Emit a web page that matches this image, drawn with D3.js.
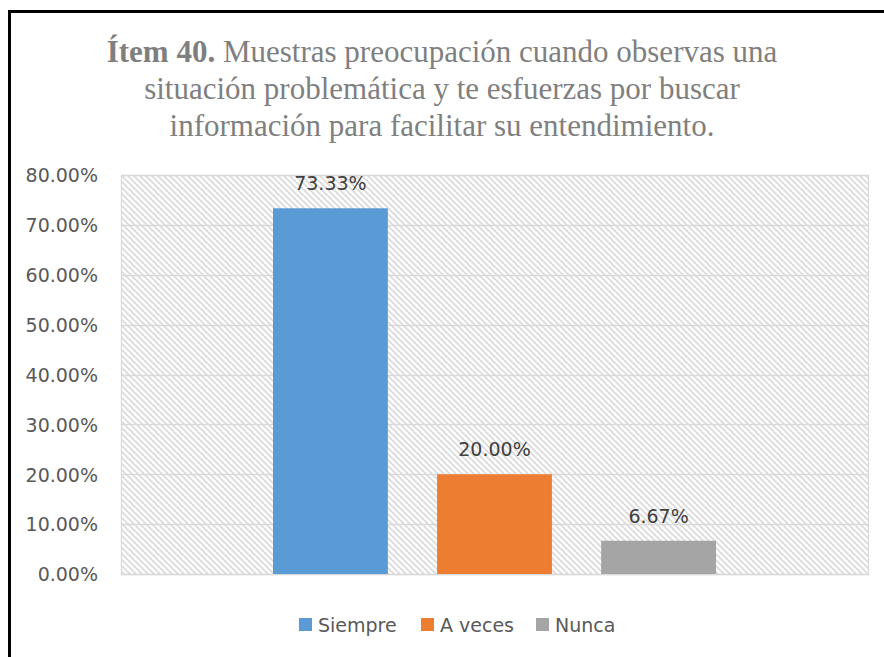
<!DOCTYPE html>
<html>
<head>
<meta charset="utf-8">
<script src="https://cdn.jsdelivr.net/npm/d3@7/dist/d3.min.js"></script>
<style>
  html, body { margin: 0; padding: 0; background: #fff; }
  svg { display: block; }
</style>
</head>
<body>
<svg id="chart" width="884" height="657"></svg>
<script>
// Survey item 40 — share of answers per option
const categories = ["Ítem 40"];
const series = ["Siempre", "A veces", "Nunca"];
const values = [73.33, 20.00, 6.67];
const colors = ["#5b9bd5", "#ed7d31", "#a5a5a5"];
const yTicks = [0, 10, 20, 30, 40, 50, 60, 70, 80];
const titleLines = [
  [{ t: "Ítem 40.", b: true }, { t: " Muestras preocupación cuando observas una", b: false }],
  [{ t: "situación problemática y te esfuerzas por buscar", b: false }],
  [{ t: "información para facilitar su entendimiento.", b: false }]
];

const svg = d3.select("#chart");
const sans = "'DejaVu Sans', sans-serif";
const fs = 19;
const plot = { left: 121, right: 868, top: 175, bottom: 574 };

// Outer frame (runs off the right and bottom edge)
svg.append("rect")
  .attr("x", 9.5).attr("y", 11.5)
  .attr("width", 900).attr("height", 700)
  .attr("fill", "#fff").attr("stroke", "#000").attr("stroke-width", 3);

// Diagonal hatch for the plot background
const defs = svg.append("defs");
const pat = defs.append("pattern")
  .attr("id", "hatch").attr("patternUnits", "userSpaceOnUse")
  .attr("width", 6).attr("height", 6);
pat.append("rect").attr("width", 6).attr("height", 6).attr("fill", "#fff");
pat.append("path")
  .attr("d", "M-1,-1 L7,7 M-1,5 L1,7 M5,-1 L7,1")
  .attr("stroke", "#dadada").attr("stroke-width", 1.6);

// Title
const title = svg.append("text")
  .attr("text-anchor", "middle")
  .attr("font-family", "'Liberation Serif', 'Times New Roman', serif")
  .attr("font-size", 31)
  .attr("fill", "#7f7f7f");
titleLines.forEach((line, i) => {
  const tl = title.append("tspan").attr("x", 442).attr("y", 62 + i * 37);
  line.forEach(part => {
    tl.append("tspan").attr("font-weight", part.b ? "bold" : "normal").text(part.t);
  });
});

// Scales
const y = d3.scaleLinear().domain([0, 80]).range([plot.bottom, plot.top]);
const x0 = d3.scaleBand().domain(categories).range([plot.left, plot.right]);
const x1 = d3.scaleBand().domain(series)
  .range([152, x0.bandwidth() - 152])
  .paddingInner(0.3).paddingOuter(0);

// Plot background
svg.append("rect")
  .attr("x", plot.left).attr("y", plot.top)
  .attr("width", plot.right - plot.left).attr("height", plot.bottom - plot.top)
  .attr("fill", "url(#hatch)");

// Gridlines
svg.append("g").selectAll("line").data(yTicks).join("line")
  .attr("x1", plot.left).attr("x2", plot.right)
  .attr("y1", d => Math.round(y(d)) + 0.5).attr("y2", d => Math.round(y(d)) + 0.5)
  .attr("stroke", "#d9d9d9").attr("stroke-width", 1.3);

// Plot border
svg.append("rect")
  .attr("x", plot.left + 0.5).attr("y", plot.top + 0.5)
  .attr("width", plot.right - plot.left).attr("height", plot.bottom - plot.top)
  .attr("fill", "none").attr("stroke", "#d9d9d9").attr("stroke-width", 1.3);

// Y axis
const yAxis = d3.axisLeft(y).tickValues(yTicks).tickSize(0).tickPadding(0)
  .tickFormat(d => d.toFixed(2) + "%");
const gy = svg.append("g").attr("transform", `translate(98,0)`).call(yAxis);
gy.select(".domain").remove();
gy.selectAll("text")
  .attr("font-family", sans).attr("font-size", fs)
  .attr("fill", "#595959").attr("dy", "0.36em");

// Bars
const g = svg.append("g").attr("transform", `translate(${x0(categories[0])},0)`);
const data = series.map((s, i) => ({ s, v: values[i], c: colors[i] }));
g.selectAll("rect.bar").data(data).join("rect")
  .attr("class", "bar")
  .attr("x", d => x1(d.s)).attr("width", x1.bandwidth())
  .attr("y", d => y(d.v)).attr("height", d => y(0) - y(d.v))
  .attr("fill", d => d.c);

// Value labels
g.selectAll("text.lbl").data(data).join("text")
  .attr("class", "lbl")
  .attr("x", d => x1(d.s) + x1.bandwidth() / 2)
  .attr("y", d => y(d.v) - 18)
  .attr("text-anchor", "middle")
  .attr("font-family", sans).attr("font-size", fs)
  .attr("fill", "#404040")
  .text(d => d.v.toFixed(2) + "%");

// Legend
const legendX = [299, 421, 536];
const lg = svg.append("g");
const items = lg.selectAll("g").data(data).join("g")
  .attr("transform", (d, i) => `translate(${legendX[i]},618)`);
items.append("rect").attr("width", 13).attr("height", 13).attr("fill", d => d.c);
items.append("text")
  .attr("x", 19).attr("y", 7).attr("dy", "0.36em")
  .attr("font-family", sans).attr("font-size", fs)
  .attr("fill", "#595959")
  .text(d => d.s);
</script>
</body>
</html>
